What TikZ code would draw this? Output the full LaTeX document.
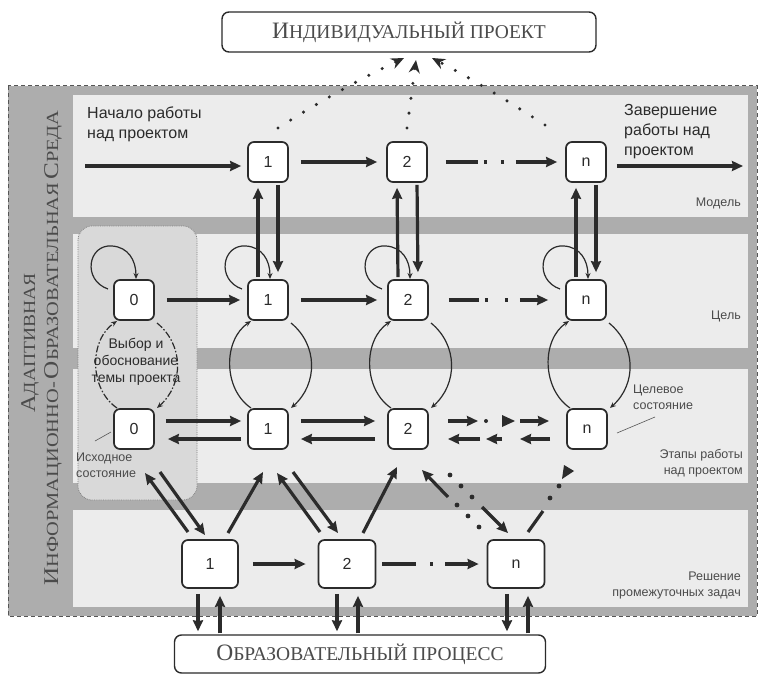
\documentclass[tikz,border=0pt]{standalone}
\usepackage{fontspec}
\setmainfont{Liberation Serif}
\setsansfont{Liberation Sans}
\usetikzlibrary{arrows.meta,calc}

\definecolor{frameg}{HTML}{ADADAD}
\definecolor{bandg}{HTML}{ECECEC}
\definecolor{leftg}{HTML}{D9D9D9}
\definecolor{ink}{HTML}{2B2B2B}

\newcommand\capsA[2]{{\fontsize{21}{21}\selectfont #1}{\fontsize{17}{17}\selectfont #2}}
\newcommand\capsB[2]{{\fontsize{23.5}{23.5}\selectfont #1}{\fontsize{19.5}{19.5}\selectfont #2}}

\tikzset{
 box/.style={draw=ink, line width=1.7pt, rounded corners=6pt, fill=white, minimum width=40pt, minimum height=40pt, inner sep=0pt, font=\sffamily\fontsize{16}{16}\selectfont, text=ink},
 bbox/.style={box, minimum width=57pt, minimum height=48pt},
 bigbox/.style={draw=ink, line width=1.4pt, rounded corners=7pt, fill=white, inner sep=0pt, text=ink!85},
 arr/.style={draw=ink, line width=3.2pt, -{Stealth[length=11pt,width=10pt,inset=1pt]}},
 thinl/.style={draw=ink, line width=1.2pt},
 smalltip/.style={-{Stealth[length=6pt,width=5pt]}},
 lbl/.style={font=\sffamily\fontsize{16}{20}\selectfont, text=ink, inner sep=0pt},
 small/.style={font=\sffamily\fontsize{12.5}{16}\selectfont, text=ink!85, inner sep=0pt},
 dotl/.style={draw=ink, line width=3.4pt, line cap=round, dash pattern=on 0pt off 15pt},
 dotarr/.style={dotl, -{Stealth[length=13pt,width=11pt]}},
}

\newcommand\selfloop[1]{\draw[thinl, smalltip] ($(#1)+(-26,-11)$) .. controls ($(#1)+(-52,-20)$) and ($(#1)+(-46,-56)$) .. ($(#1)+(-22,-54)$) .. controls ($(#1)+(-6,-53)$) and ($(#1)+(2,-40)$) .. ($(#1)+(2,-21)$);}
\newcommand\lens[3]{%
 \draw[thinl, smalltip, #3] ($(#2)+(-17,-21)$) .. controls ($(#2)+(-45,-40)$) and ($(#1)+(-45,40)$) .. ($(#1)+(-17,21)$);
 \draw[thinl, smalltip, #3] ($(#1)+(23,23)$) .. controls ($(#1)+(50,45)$) and ($(#2)+(50,-45)$) .. ($(#2)+(23,-21)$);}

\begin{document}
\begin{tikzpicture}[x=1pt,y=-1pt]
\useasboundingbox (0,0) rectangle (760,674);
\fill[white] (0,0) rectangle (760,674);
% frame and bands
\fill[frameg] (8,86) rectangle (757,616);
\draw[ink!80, line width=1pt, dash pattern=on 4pt off 3pt] (8,86) rectangle (757,616);
\fill[bandg] (73,95) rectangle (748,217);
\fill[bandg] (73,234) rectangle (748,348);
\fill[bandg] (73,369) rectangle (748,483);
\fill[bandg] (73,510) rectangle (748,607);
\filldraw[fill=leftg, draw=ink!60, densely dotted, line width=0.8pt, rounded corners=14pt] (78,226) rectangle (197,500);

% left vertical text
\node[rotate=90, text=ink!85, inner sep=0pt] (adapt) at (30,343) {\scalebox{1.15}[1]{\capsA{А}{ДАПТИВНАЯ}}};
\node[rotate=90, text=ink!85, inner sep=0pt] (ios) at (53,348) {\scalebox{1.2}[1]{\capsA{И}{НФОРМАЦИОННО-} \capsA{О}{БРАЗОВАТЕЛЬНАЯ} \capsA{С}{РЕДА}}};

% top and bottom boxes
\node[bigbox, minimum width=374pt, minimum height=40pt] (top) at (409,32) {\capsB{И}{НДИВИДУАЛЬНЫЙ ПРОЕКТ}};
\node[bigbox, minimum width=371pt, minimum height=38pt] (bot) at (360,654) {\capsB{О}{БРАЗОВАТЕЛЬНЫЙ ПРОЦЕСС}};

% nodes
\node[box] (A1) at (268,162) {1};
\node[box] (A2) at (407,162) {2};
\node[box] (An) at (586,162) {n};
\node[box] (B0) at (134,300) {0};
\node[box] (B1) at (268,300) {1};
\node[box] (B2) at (408,300) {2};
\node[box] (Bn) at (586,300) {n};
\node[box] (C0) at (134,429) {0};
\node[box] (C1) at (268,429) {1};
\node[box] (C2) at (408,429) {2};
\node[box] (Cn) at (587,429) {n};
\node[bbox, minimum width=56pt] (D1) at (210,564) {1};
\node[bbox] (D2) at (347,564) {2};
\node[bbox] (Dn) at (516,564) {n};

% labels
\node[lbl, anchor=west, align=left] (start) at (87,124) {Начало работы\\над проектом};
\node[lbl, anchor=west, align=left] (finish) at (624,132) {Завершение\\работы над\\проектом};
\node[small, anchor=east] (lm) at (741,203) {Модель};
\node[small, anchor=east] (lc) at (741,316) {Цель};
\node[small, anchor=east, align=right] (le) at (743,463) {Этапы работы\\над проектом};
\node[small, anchor=east, align=right] (lr) at (741,585) {Решение\\промежуточных задач};
\node[small, anchor=west, align=left] (lt) at (633,397) {Целевое\\состояние};
\node[small, anchor=west, align=left] (li) at (76,465) {Исходное\\состояние};
\node[font=\sffamily\fontsize{14}{17}\selectfont, text=ink, align=center, inner sep=0pt] (choice) at (136,362) {Выбор и\\обоснование\\темы проекта};
\draw[ink!80, line width=0.6pt] (617,433) -- (655,417);
\draw[ink!80, line width=0.6pt] (95,441) -- (111,432);

% row 1
\coordinate (s1) at (85,166);
\draw[arr, shorten >=6pt] (s1) -- (s1 -| A1.west);
\draw[arr, shorten <=12pt, shorten >=9pt] (A1) -- (A2);
\draw[arr, dash pattern=on 32pt off 6pt on 3pt off 14pt on 3pt off 12pt on 80pt, shorten <=18pt, shorten >=8pt] (A2) -- (An);
\coordinate (e1) at (743,166);
\draw[arr, shorten <=10pt] (An.east |- e1) -- (e1);

% row 1 <-> row 2
\foreach \k in {1,2,n}{
 \draw[arr, shorten <=2pt, shorten >=5pt] ([xshift=-10pt]B\k.north) -- ([xshift=-10pt]A\k.south);
 \draw[arr, shorten <=2pt, shorten >=7pt] ([xshift=10pt]A\k.south) -- ([xshift=10pt]B\k.north);
}

% self loops
\selfloop{B0}
\selfloop{B1}
\selfloop{B2}
\selfloop{Bn}

% row 2
\draw[arr, shorten <=12pt, shorten >=7pt] (B0) -- (B1);
\draw[arr, shorten <=12pt, shorten >=10pt] (B1) -- (B2);
\draw[arr, dash pattern=on 30pt off 6pt on 3pt off 17pt on 3pt off 12pt on 80pt, shorten <=20pt, shorten >=17pt] (B2) -- (Bn);

% lenses between rows 2 and 3
\lens{B0}{C0}{dash pattern=on 7pt off 2pt on 1.5pt off 2pt}
\lens{B1}{C1}{}
\lens{B2}{C2}{}
\lens{Bn}{Cn}{}

% row 3
\draw[arr] ($(C0.east)+(11,-8)$) -- ($(C1.west)+(-6,-8)$);
\draw[arr] ($(C1.west)+(-6,10)$) -- ($(C0.east)+(13,10)$);
\draw[arr] ($(C1.east)+(12,-8)$) -- ($(C2.west)+(-12,-8)$);
\draw[arr] ($(C2.west)+(-12,10)$) -- ($(C1.east)+(12,10)$);
\draw[arr] (448,421) -- (478,421);
\fill[ink] (486,421) circle (2pt);
\fill[ink] (502,415) -- (515,421) -- (502,427) -- cycle;
\draw[arr] (520,421) -- (549,421);
\draw[arr] (480,439) -- (448,439);
\draw[arr] (502,439) -- (486,439);
\draw[arr] (550,439) -- (520,439);

% row 3 <-> row 4
\draw[arr] (188,532) -- (145,473);
\draw[arr] (160,472) -- (205,535);
\draw[arr] (228,533) -- (263,472);
\draw[arr] (320,532) -- (277,473);
\draw[arr] (293,472) -- (338,533);
\draw[arr] (363,533) -- (397,467);
\foreach \p in {(479,527),(468,516),(457,505),(450,475),(461,486),(472,497),(550,498),(559,486)} \fill[ink] \p circle (2.4pt);
\draw[arr] (448,497) -- (422,470);
\draw[arr] (482,507) -- (508,533);
\draw[line width=3.2pt, ink] (528,532) -- (543,511);
\fill[ink] (564,465) -- (574,471) -- (562,479) -- cycle;

% row 4
\draw[arr, shorten <=14pt, shorten >=12pt] (D1) -- (D2);
\draw[arr, dash pattern=on 34pt off 14pt on 3pt off 12pt on 80pt, shorten <=6pt, shorten >=8pt] (D2) -- (Dn);

% row 4 <-> bottom box
\draw[arr, shorten <=5pt, shorten >=3pt] ([xshift=-12pt]D1.south) -- ([xshift=-12pt]D1.south |- bot.north);
\draw[arr, shorten <=1pt, shorten >=7pt] ([xshift=10pt]D1.south |- bot.north) -- ([xshift=10pt]D1.south);
\draw[arr, shorten <=5pt, shorten >=3pt] ([xshift=-10pt]D2.south) -- ([xshift=-10pt]D2.south |- bot.north);
\draw[arr, shorten <=1pt, shorten >=7pt] ([xshift=11pt]D2.south |- bot.north) -- ([xshift=11pt]D2.south);
\draw[arr, shorten <=5pt, shorten >=3pt] ([xshift=-9pt]Dn.south) -- ([xshift=-9pt]Dn.south |- bot.north);
\draw[arr, shorten <=1pt, shorten >=7pt] ([xshift=12pt]Dn.south |- bot.north) -- ([xshift=12pt]Dn.south);

% dotted arrows to the project box
\draw[dotarr] (278,128) .. controls (322,100) and (362,78) .. (404,58);
\draw[dotarr] (407,128) -- (416,60);
\draw[dotarr] (545,125) .. controls (500,96) and (470,78) .. (432,58);
\end{tikzpicture}
\end{document}
